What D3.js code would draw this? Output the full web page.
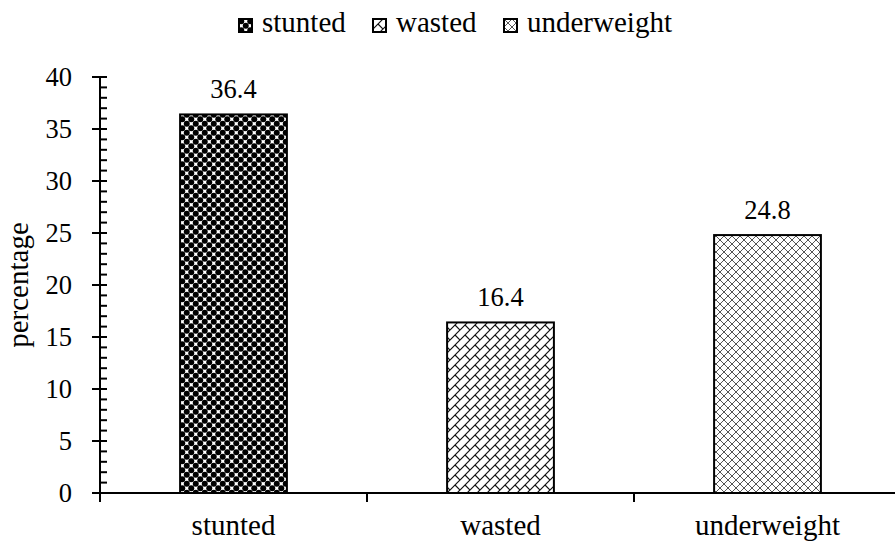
<!DOCTYPE html>
<html>
<head>
<meta charset="utf-8">
<script src="https://cdn.jsdelivr.net/npm/d3@7/dist/d3.min.js"></script>
</head>
<body style="margin:0;background:#fff">
<svg id="chart" width="895" height="543"></svg>
<script>
// Malnutrition indicators (percentage of children)
const categories = ["stunted", "wasted", "underweight"];
const values = [36.4, 16.4, 24.8];
const yTicks = [0, 5, 10, 15, 20, 25, 30, 35, 40];
const patternIds = ["pat-dots", "pat-brick", "pat-diamond"];

const NUM_SIZE = 26.5;
const WORD_SIZE = 29;
const SERIF = "Liberation Serif";

const svg = d3.select("#chart").style("font-family", SERIF);
const margin = { left: 100, right: -6, top: 77, bottom: 50 };
const W = 895, H = 543;

const x = d3.scaleBand()
  .domain(categories)
  .range([margin.left, W - margin.right])
  .paddingInner(0.6)
  .paddingOuter(0.3);

const y = d3.scaleLinear()
  .domain([0, 40])
  .range([H - margin.bottom, margin.top]);

// Fill patterns
const defs = svg.append("defs");

// dense dots
const dots = defs.append("pattern").attr("id", "pat-dots")
  .attr("patternUnits", "userSpaceOnUse").attr("width", 9).attr("height", 9);
dots.append("rect").attr("width", 9).attr("height", 9).attr("fill", "#fff");
const dotCenters = [];
[-4.5, 0, 4.5, 9, 13.5].forEach(cx => [-4.5, 0, 4.5, 9, 13.5].forEach(cy => {
  if (((cx + cy) / 4.5) % 2 === 0) dotCenters.push([cx + 2.25, cy + 2.25]);
}));
dots.selectAll("circle").data(dotCenters).join("circle")
  .attr("cx", d => d[0]).attr("cy", d => d[1]).attr("r", 3.0).attr("fill", "#000");

// diagonal bricks
const brick = defs.append("pattern").attr("id", "pat-brick")
  .attr("patternUnits", "userSpaceOnUse").attr("width", 10).attr("height", 10);
brick.append("rect").attr("width", 10).attr("height", 10).attr("fill", "#fff");
brick.append("path")
  .attr("d", "M-1,11 L11,-1 M-1,1 L1,-1 M9,11 L11,9 M5,5 L10,10")
  .attr("stroke", "#111").attr("stroke-width", 1.2).attr("fill", "none");

// diamond lattice
const diamond = defs.append("pattern").attr("id", "pat-diamond")
  .attr("patternUnits", "userSpaceOnUse").attr("width", 8).attr("height", 8);
diamond.append("rect").attr("width", 8).attr("height", 8).attr("fill", "#fff");
diamond.append("path")
  .attr("d", "M0,0 L8,8 M8,0 L0,8")
  .attr("stroke", "#555").attr("stroke-width", 1).attr("fill", "none");

// Bars
svg.append("g").selectAll("rect")
  .data(categories)
  .join("rect")
  .attr("x", d => x(d))
  .attr("y", (d, i) => y(values[i]))
  .attr("width", x.bandwidth())
  .attr("height", (d, i) => y(0) - y(values[i]))
  .attr("fill", (d, i) => `url(#${patternIds[i]})`)
  .attr("stroke", "#000")
  .attr("stroke-width", 2);

// Value labels
svg.append("g").selectAll("text")
  .data(categories)
  .join("text")
  .attr("x", d => x(d) + x.bandwidth() / 2)
  .attr("y", (d, i) => y(values[i]) - 16)
  .attr("text-anchor", "middle")
  .style("font-family", SERIF)
  .style("font-size", NUM_SIZE + "px")
  .text((d, i) => values[i].toFixed(1));

// Y axis: major ticks cross the line, minor ticks point inward
const yAxisG = svg.append("g");
yAxisG.append("line")
  .attr("x1", margin.left).attr("x2", margin.left)
  .attr("y1", y(40)).attr("y2", y(0) + 9)
  .attr("stroke", "#000").attr("stroke-width", 2);
yAxisG.selectAll("line.minor")
  .data(d3.range(0, 41))
  .join("line").attr("class", "minor")
  .attr("x1", d => yTicks.includes(d) ? margin.left - 8 : margin.left)
  .attr("x2", margin.left + 7)
  .attr("y1", d => y(d)).attr("y2", d => y(d))
  .attr("stroke", "#000").attr("stroke-width", 2);
yAxisG.selectAll("text")
  .data(yTicks)
  .join("text")
  .attr("x", 72)
  .attr("y", d => y(d) + 9)
  .attr("text-anchor", "end")
  .style("font-family", SERIF)
  .style("font-size", NUM_SIZE + "px")
  .text(d => d);

// X axis with ticks between categories
const xAxisG = svg.append("g");
xAxisG.append("line")
  .attr("x1", margin.left).attr("x2", W)
  .attr("y1", y(0)).attr("y2", y(0))
  .attr("stroke", "#000").attr("stroke-width", 2);
xAxisG.selectAll("line.tick")
  .data(categories)
  .join("line").attr("class", "tick")
  .attr("x1", d => x(d) - x.step() * x.paddingOuter())
  .attr("x2", d => x(d) - x.step() * x.paddingOuter())
  .attr("y1", y(0)).attr("y2", y(0) + 9)
  .attr("stroke", "#000").attr("stroke-width", 2);
xAxisG.selectAll("text")
  .data(categories)
  .join("text")
  .attr("x", d => x(d) + x.bandwidth() / 2)
  .attr("y", 535)
  .attr("text-anchor", "middle")
  .style("font-family", SERIF)
  .style("font-size", WORD_SIZE + "px")
  .text(d => d);

// Y axis title
svg.append("text")
  .attr("transform", `translate(28,285) rotate(-90)`)
  .attr("text-anchor", "middle")
  .style("font-family", SERIF)
  .style("font-size", WORD_SIZE + "px")
  .text("percentage");

// Legend
const legendX = [239, 373, 504];
const legend = svg.append("g").selectAll("g")
  .data(categories)
  .join("g")
  .attr("transform", (d, i) => `translate(${legendX[i]},19)`);
legend.append("rect")
  .attr("width", 13).attr("height", 13)
  .attr("fill", (d, i) => `url(#${patternIds[i]})`)
  .attr("stroke", "#000").attr("stroke-width", 2);
legend.append("text")
  .attr("x", 23).attr("y", 13)
  .style("font-family", SERIF)
  .style("font-size", WORD_SIZE + "px")
  .text(d => d);
</script>
</body>
</html>
